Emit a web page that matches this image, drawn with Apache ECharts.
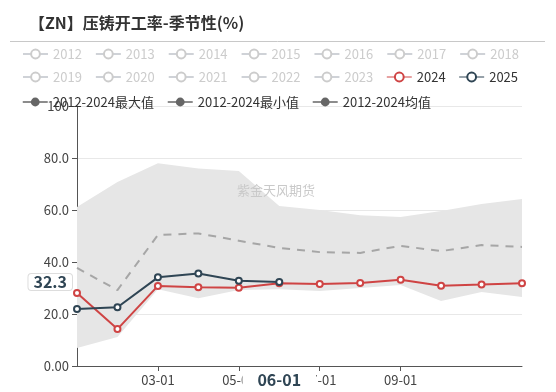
<!DOCTYPE html>
<html><head><meta charset="utf-8">
<script src="https://cdn.jsdelivr.net/npm/echarts@6/dist/echarts.min.js"></script>
<style>html,body{margin:0;padding:0;background:#fff}#c{width:556px;height:392px}</style>
</head><body><div id="c"></div>
<script>
const months = ['01-01','02-01','03-01','04-01','05-01','06-01','07-01','08-01','09-01','10-01','11-01','12-01'];
const oldYears = ['2012','2013','2014','2015','2016','2017','2018','2019','2020','2021','2022','2023'];
const maxVals = [61.2,70.8,78.0,76.0,75.0,61.5,60.0,58.0,57.3,59.6,62.3,64.2];
const minVals = [6.9,11.2,29.5,26.1,29.2,29.5,28.8,30.0,31.2,25.0,28.5,26.5];
const avgVals = [37.7,29.2,50.4,51.0,48.2,45.4,43.8,43.5,46.2,44.2,46.5,45.8];
const v2024 = [28.1,14.2,30.8,30.3,30.1,31.8,31.5,31.9,33.2,30.9,31.3,31.8];
const v2025 = [21.9,22.6,34.1,35.6,32.8,32.3];
const pointerMonth = 5;
const pointerValue = 32.3;

const FONT = 'Noto Sans CJK SC';
const NAME_MAX = '2012-2024最大值', NAME_MIN = '2012-2024最小值', NAME_AVG = '2012-2024均值';

const chart = echarts.init(document.getElementById('c'), null, {renderer:'canvas'});
const selected = {};
oldYears.forEach(y => selected[y] = false);

const series = [];
oldYears.forEach(y => series.push({name:y, type:'line', data:[], symbol:'emptyCircle', itemStyle:{color:'#999'}}));
series.push({
  name: NAME_MIN, type:'line', data: minVals, stack:'band', symbol:'circle', showSymbol:false,
  itemStyle:{color:'#666'}, lineStyle:{opacity:0}, silent:true, z:1
});
series.push({
  name: NAME_MAX, type:'line', data: maxVals.map((v,i)=> +(v - minVals[i]).toFixed(2)), stack:'band',
  symbol:'circle', showSymbol:false, itemStyle:{color:'#666'}, lineStyle:{opacity:0},
  areaStyle:{color:'#e6e6e6', opacity:1}, silent:true, z:1
});
series.push({
  name: NAME_AVG, type:'line', data: avgVals, symbol:'circle', showSymbol:false,
  itemStyle:{color:'#666'}, lineStyle:{color:'#a6a6a6', width:2, type:[8,7]}, z:2
});
series.push({
  name:'2024', type:'line', data:v2024, symbol:'emptyCircle', symbolSize:6,
  itemStyle:{color:'#cf4444'}, lineStyle:{color:'#cf4444', width:2}, z:3
});
series.push({
  name:'2025', type:'line', data:v2025, symbol:'emptyCircle', symbolSize:6,
  itemStyle:{color:'#2f4554'}, lineStyle:{color:'#2f4554', width:2}, z:4
});

const legendBase = {
  left: 22, padding: 0, itemWidth: 25, itemHeight: 11, itemGap: 13, inactiveColor:'#ccc',
  textStyle:{fontFamily:FONT, fontSize:13, color:'#333'}, selected,
  itemStyle:{borderWidth:1}, lineStyle:{width:1}
};
const yearItem = n => ({name:n, itemStyle:{borderWidth:1}, lineStyle:{width:1}});
const statLegendItem = n => ({name:n, itemStyle:{color:'#666', borderWidth:0}, lineStyle:{color:'#666', opacity:1, type:'solid', width:1.5}});

const showIdx = i => i===2 || i===4 || i===6 || i===8;

chart.setOption({
  animation:false,
  textStyle:{fontFamily:FONT},
  title:{text:'【ZN】压铸开工率-季节性(%)', left:24, top:10,
    textStyle:{fontFamily:FONT, fontSize:16, fontWeight:'bold', color:'#333'}},
  graphic:[
    {type:'line', shape:{x1:10, y1:41.5, x2:545, y2:41.5}, style:{stroke:'#c8c8c8', lineWidth:1}, z:10},
    {type:'text', left:237, top:184, style:{text:'紫金天风期货', font:'13px "Noto Sans CJK SC"', fill:'#c9c9c9'}, z:100}
  ],
  legend:[
    Object.assign({}, legendBase, {top:47.5, data: oldYears.slice(0,7).map(yearItem)}),
    Object.assign({}, legendBase, {top:70.5, data: oldYears.slice(7).concat(['2024','2025']).map(yearItem)}),
    Object.assign({}, legendBase, {top:95.5, itemGap:13, data: [statLegendItem(NAME_MAX), statLegendItem(NAME_MIN), statLegendItem(NAME_AVG)]})
  ],
  grid:{left:77, right:34, top:106, bottom:26, containLabel:false},
  xAxis:{
    type:'category', data:months, boundaryGap:false,
    axisLine:{lineStyle:{color:'#555'}},
    axisTick:{interval: i=>showIdx(i), alignWithLabel:true, lineStyle:{color:'#555'}},
    axisLabel:{interval: i=>showIdx(i), color:'#444', fontSize:13, fontFamily:FONT, margin:8},
    splitLine:{show:false},
    axisPointer:{show:true, status:'show', value:pointerMonth, type:'line', lineStyle:{opacity:0}, triggerTooltip:false,
      label:{show:true, backgroundColor:'#fff', color:'#2f4554', fontWeight:'bold', fontSize:16, fontFamily:FONT, padding:[3,15,2,15], margin:3, borderWidth:0, shadowBlur:0}}
  },
  yAxis:{
    type:'value', min:0, max:100, interval:20,
    axisLine:{show:true, lineStyle:{color:'#555'}},
    axisTick:{show:true, lineStyle:{color:'#555'}},
    axisLabel:{color:'#444', fontSize:13, fontFamily:FONT, formatter: v => Number(v).toPrecision(3)},
    splitLine:{lineStyle:{color:'#e8e8e8'}},
    axisPointer:{show:true, status:'show', value:pointerValue, type:'line', lineStyle:{opacity:0}, triggerTooltip:false,
      label:{show:true, backgroundColor:'#fff', color:'#2f4554', fontWeight:'bold', fontSize:16, fontFamily:FONT, padding:[0,5,0,5], margin:5, borderColor:'#ddd', borderWidth:1, shadowBlur:0,
        formatter: p => Number(p.value).toFixed(1)}}
  },
  series
});
</script></body></html>
